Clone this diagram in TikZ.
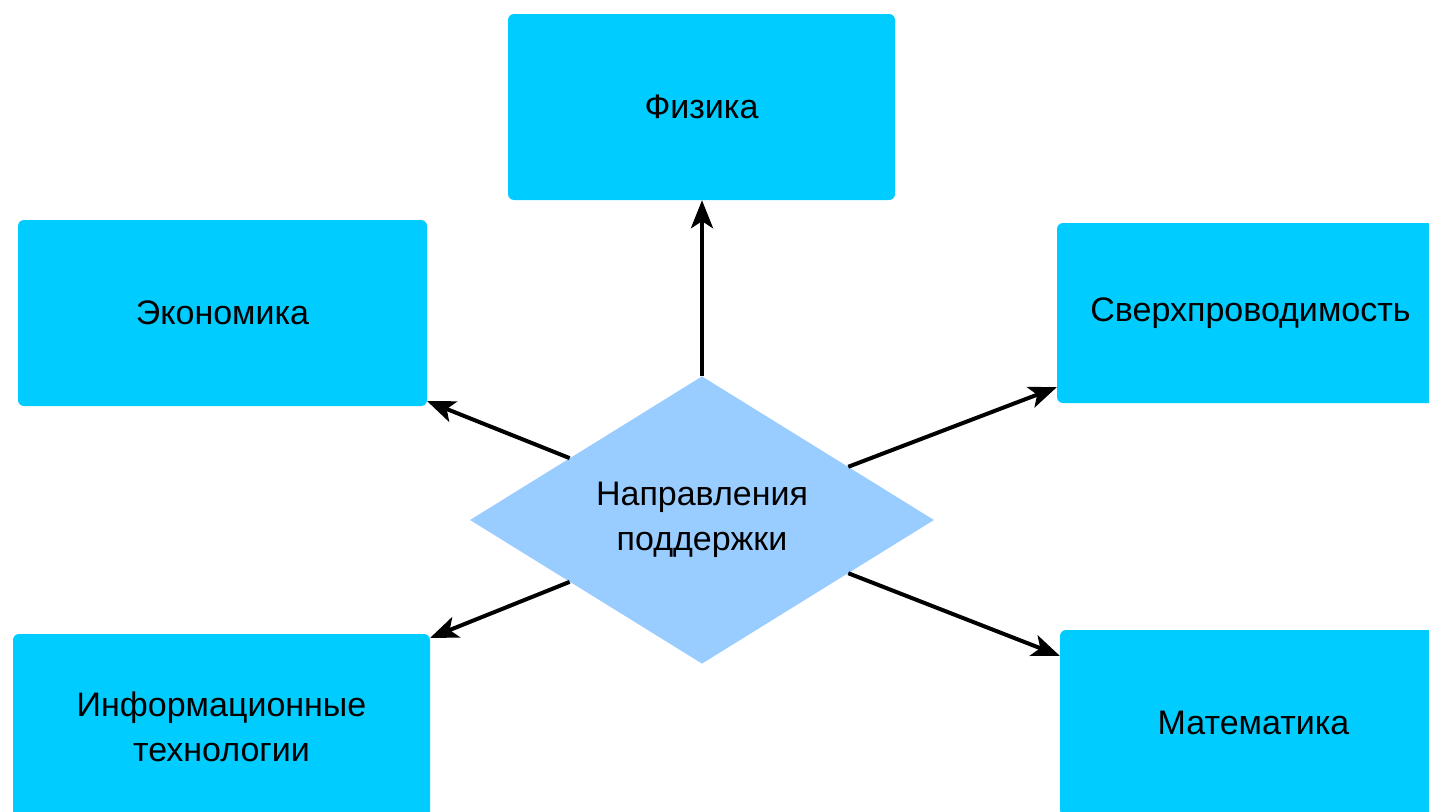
\documentclass[tikz,border=0pt]{standalone}
\usepackage{fontspec}
\setmainfont{Liberation Sans}
\usetikzlibrary{shapes.geometric,arrows.meta,calc}
\definecolor{boxblue}{HTML}{00CCFF}
\definecolor{diablue}{HTML}{99CCFF}
\begin{document}
\begin{tikzpicture}[x=1pt,y=-1pt,
  topic/.style={fill=boxblue,rounded corners=6pt,inner sep=0pt,align=center,font=\fontsize{34}{45}\selectfont},
  hub/.style={diamond,fill=diablue,inner sep=0pt,minimum width=464pt,minimum height=280pt,align=center,font=\fontsize{34}{45}\selectfont},
  link/.style={line width=4pt,-{Stealth[length=28pt,width=22pt,inset=7pt]}}]
\useasboundingbox (0,0) rectangle (1429,811);
\clip (0,0) rectangle (1429,811);
\node[topic,minimum width=387pt,minimum height=186pt] (fiz) at (701.5,107) {Физика};
\node[topic,minimum width=409pt,minimum height=186pt] (eco) at (222.5,313) {Экономика};
\node[topic,minimum width=387pt,minimum height=180pt] (sup) at (1250.5,313) {Сверхпроводимость};
\node[topic,minimum width=417pt,minimum height=186pt] (inf) at (221.5,727) {Информационные\\технологии};
\node[topic,minimum width=387pt,minimum height=186pt] (mat) at (1253.5,723) {Математика};
\node[hub] (hub) at (702,520) {Направления\\поддержки};
\coordinate (hubA) at ($(hub.west)!0.43!(hub.north)$);
\coordinate (hubB) at ($(hub.east)!0.37!(hub.north)$);
\coordinate (hubC) at ($(hub.west)!0.43!(hub.south)$);
\coordinate (hubD) at ($(hub.east)!0.37!(hub.south)$);
\draw[link] (hub.north) -- (hub.north |- fiz.south);
\draw[link] (hubA) -- ($(eco.south east)+(0,-5)$);
\draw[link] (hubB) -- ($(sup.south west)+(0,-16)$);
\draw[link] (hubC) -- ($(inf.north east)+(0,4)$);
\draw[link] (hubD) -- ($(mat.north west)+(0,26)$);
\end{tikzpicture}
\end{document}
